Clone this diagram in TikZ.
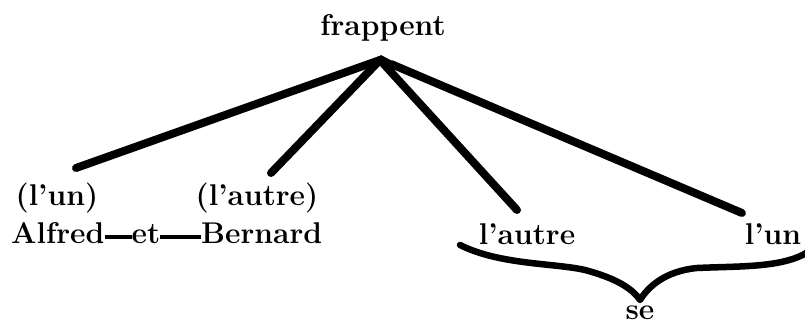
\documentclass[tikz,border=0pt]{standalone}
\usepackage{fontspec}
\begin{document}
\begin{tikzpicture}[x=1pt,y=-1pt,
  word/.style={font=\fontsize{30}{36}\selectfont\bfseries, inner sep=0pt},
  branch/.style={line width=8pt, line cap=round},
  link/.style={line width=4.5pt},
  bracestroke/.style={line width=6.5pt, line cap=round, line join=round}]
\useasboundingbox (0,0) rectangle (805,327);
% words
\node[word, anchor=base] (frappent) at (383,35) {frappent};
\node[word, anchor=base] (lun1) at (57,205) {(l'un)};
\node[word, anchor=base] (lautre1) at (257,205) {(l'autre)};
\node[word, anchor=base west] (alfred) at (11,243) {Alfred};
\node[word, anchor=base] (et) at (146,243) {et};
\node[word, anchor=base west] (bernard) at (201,243) {Bernard};
\node[word, anchor=base] (lautre2) at (527,244) {l'autre};
\node[word, anchor=base] (lun2) at (773,244) {l'un};
\node[word, anchor=base] (se) at (640,319) {se};
% branch points
\coordinate (apex) at (380,60);
\coordinate (apexr) at (391,64);
\coordinate (e1) at (76,168);
\coordinate (e2) at (271,173);
\coordinate (e3) at (517,210);
\coordinate (e4) at (742,213);
\draw[branch] (apex) -- (e1);
\draw[branch] (apex) -- (e2);
\draw[branch] (apex) -- (e3);
\draw[branch] (apexr) -- (e4);
\fill (372,62) -- (381,55) -- (394,62) -- (386,67) -- cycle;
% coordination links
\draw[link] (alfred.base east) ++(0,-6) coordinate (a1) -- (a1 -| et.west);
\draw[link] (et.base east) ++(0,-6) coordinate (a2) -- (a2 -| bernard.west);
% brace
\coordinate (bl) at (460,245);
\coordinate (bt) at (640,300);
\coordinate (br) at (808,252);
\draw[bracestroke] (bl) .. controls (500,265) and (555,263) .. (585,270)
  .. controls (615,278) and (632,288) .. (bt)
  .. controls (648,287) and (665,271) .. (697,268)
  .. controls (740,266) and (782,268) .. (br);
\end{tikzpicture}
\end{document}
